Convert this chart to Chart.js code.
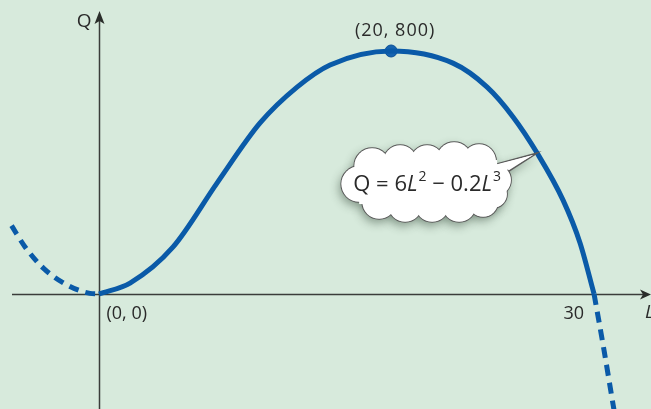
<!DOCTYPE html>
<html>
<head>
<meta charset="utf-8">
<script src="https://cdn.jsdelivr.net/npm/chart.js@4.4.1/dist/chart.umd.min.js"></script>
<style>
  html, body { margin: 0; padding: 0; background: #d7eadc; }
  #wrap { width: 651px; height: 409px; }
</style>
</head>
<body>
<div id="wrap"><canvas id="prodChart" width="651" height="409"></canvas></div>
<script>
// Curve (L along the horizontal, Q up)
const solidL = [0, 1.88, 4.49, 7.15, 9.76, 12.0, 14.0, 17.7, 21.45, 23.52, 25.09, 26.55, 28.12, 29.15, 30];
const solidQ = [0, 36, 155, 365, 563, 681, 754, 800, 760, 681, 583, 464, 309, 168, 0];
const leftL = [-5.3, -4.48, -3.39, -1.94, -0.55, 0];
const leftQ = [225, 155, 86, 30, 2, 0];
const rightL = [30, 30.6, 31.2, 31.4];
const rightQ = [0, -184, -379, -440];
const peakL = [17.7];
const peakQ = [800];

// labels
const peakLabel = "(20, 800)";
const originLabel = "(0, 0)";
const tickLabel = "30";

const blue = '#0a5aa8';
const ink = '#2a2a2a';

const pts = (xs, ys) => xs.map((x, i) => ({ x: x, y: ys[i] }));

// axes with arrows, text and the cloud callout
const decor = {
  id: 'decor',
  beforeDraw(chart) {
    const c = chart.ctx;
    c.save();
    c.fillStyle = '#d7eadc';
    c.fillRect(0, 0, chart.width, chart.height);
    c.restore();
  },
  beforeDatasetsDraw(chart) {
    const c = chart.ctx;
    const xs = chart.scales.x, ys = chart.scales.y;
    const ox = Math.round(xs.getPixelForValue(0)) + 0.5;
    const oy = Math.round(ys.getPixelForValue(0)) + 0.5;
    c.save();
    c.strokeStyle = '#3a3d3a';
    c.fillStyle = '#2a2d2a';
    c.lineWidth = 1.5;
    c.beginPath();
    c.moveTo(12, oy); c.lineTo(645, oy);
    c.moveTo(ox, chart.height); c.lineTo(ox, 20);
    c.stroke();
    // arrow heads
    c.beginPath();
    c.moveTo(651, oy); c.lineTo(640, oy - 5); c.lineTo(643, oy); c.lineTo(640, oy + 5); c.closePath();
    c.fill();
    c.beginPath();
    c.moveTo(ox, 11); c.lineTo(ox - 5, 24); c.lineTo(ox, 21); c.lineTo(ox + 5, 24); c.closePath();
    c.fill();

    c.fillStyle = ink;
    c.font = '19px "Open Sans"';
    c.textAlign = 'right';
    c.textBaseline = 'alphabetic';
    c.fillText('Q', ox - 8, 27);
    c.textAlign = 'left';
    c.font = 'italic 19px "Open Sans"';
    c.fillText('L', 645, 318);
    c.font = '18px "Open Sans"';
    c.fillText(originLabel, ox + 7, oy + 24);
    c.textAlign = 'right';
    c.fillText(tickLabel, xs.getPixelForValue(30) - 10, oy + 24);
    c.restore();
  },
  afterDatasetsDraw(chart) {
    const c = chart.ctx;
    const xs = chart.scales.x, ys = chart.scales.y;
    // peak label
    c.save();
    c.fillStyle = ink;
    c.font = '18px "Open Sans"';
    c.letterSpacing = '1px';
    c.textAlign = 'center';
    c.fillText(peakLabel, xs.getPixelForValue(peakL[0]) + 4, ys.getPixelForValue(peakQ[0]) - 15);
    c.restore();

    // cloud, anchored on a point of the curve
    const k = solidL.indexOf(26.55);
    const tx = xs.getPixelForValue(solidL[k]);
    const ty = ys.getPixelForValue(solidQ[k]);
    const cx = tx - 110, cy = ty + 29;
    const circles = [
      [-55, -16, 18], [-27, -20, 17], [0, -20, 17], [27, -22, 18], [52, -21, 17],
      [68, -2, 16], [66, 12, 14],
      [56, 20, 15], [32, 23, 17], [5, 23, 17], [-22, 23, 17], [-48, 20, 17],
      [-68, 2, 18]
    ];
    const ptr = [[cx + 66, cy - 17], [tx, ty], [cx + 74, cy - 6]];
    c.save();
    // shadow
    c.shadowColor = 'rgba(40,60,45,0.45)';
    c.shadowBlur = 10;
    c.shadowOffsetX = -2;
    c.shadowOffsetY = 4;
    c.fillStyle = '#ffffff';
    circles.forEach(([dx, dy, r]) => { c.beginPath(); c.arc(cx + dx, cy + dy, r, 0, Math.PI * 2); c.fill(); });
    c.beginPath(); c.moveTo(...ptr[0]); c.lineTo(...ptr[1]); c.lineTo(...ptr[2]); c.closePath(); c.fill();
    c.shadowColor = 'transparent';
    // outline
    c.strokeStyle = '#5a5a5a';
    c.lineWidth = 1.5;
    circles.forEach(([dx, dy, r]) => { c.beginPath(); c.arc(cx + dx, cy + dy, r, 0, Math.PI * 2); c.stroke(); });
    c.beginPath(); c.moveTo(...ptr[0]); c.lineTo(...ptr[1]); c.lineTo(...ptr[2]); c.stroke();
    // fill
    circles.forEach(([dx, dy, r]) => { c.beginPath(); c.arc(cx + dx, cy + dy, r - 0.2, 0, Math.PI * 2); c.fill(); });
    c.fillRect(cx - 68, cy - 22, 138, 44);
    c.beginPath(); c.moveTo(ptr[0][0] - 3, ptr[0][1] + 1); c.lineTo(ptr[1][0] - 4, ptr[1][1] + 2); c.lineTo(ptr[2][0] - 3, ptr[2][1] - 1); c.closePath(); c.fill();

    // equation text
    const parts = [
      ['Q = 6', '22px "Open Sans"', 0],
      ['L', 'italic 22px "Open Sans"', 0],
      ['2', '14px "Open Sans"', -10],
      [' \u2212 0.2', '22px "Open Sans"', 0],
      ['L', 'italic 22px "Open Sans"', 0],
      ['3', '14px "Open Sans"', -10]
    ];
    let total = 0;
    parts.forEach(p => { c.font = p[1]; total += c.measureText(p[0]).width + (p[0] === 'L' ? 1 : 0); });
    let x = cx - total / 2;
    const base = cy + 9;
    c.fillStyle = ink;
    c.textAlign = 'left';
    parts.forEach(p => {
      c.font = p[1];
      c.fillText(p[0], x, base + p[2]);
      x += c.measureText(p[0]).width + (p[0] === 'L' ? 1 : 0);
    });
    c.restore();
  }
};

const config = {
  type: 'line',
  data: {
    datasets: [
      {
        label: 'Q = 6L^2 - 0.2L^3',
        data: pts(solidL, solidQ),
        borderColor: blue,
        borderWidth: 5,
        pointRadius: 0,
        cubicInterpolationMode: 'monotone',
        borderCapStyle: 'butt'
      },
      {
        label: 'left',
        data: pts(leftL, leftQ),
        borderColor: blue,
        borderWidth: 5,
        borderDash: [10, 7],
        pointRadius: 0,
        cubicInterpolationMode: 'monotone'
      },
      {
        label: 'right',
        data: pts(rightL, rightQ),
        borderColor: blue,
        borderWidth: 5,
        borderDash: [11, 7],
        pointRadius: 0,
        cubicInterpolationMode: 'monotone'
      },
      {
        label: 'peak',
        data: pts(peakL, peakQ),
        showLine: false,
        pointRadius: 6,
        pointBackgroundColor: '#1764b0',
        pointBorderColor: '#0a4f96',
        pointBorderWidth: 1
      }
    ]
  },
  options: {
    responsive: false,
    animation: false,
    layout: { padding: 0, autoPadding: false },
    plugins: { legend: { display: false }, tooltip: { enabled: false } },
    scales: {
      x: { type: 'linear', min: -6, max: 33.45, display: false },
      y: { type: 'linear', min: -378.6, max: 967.9, display: false }
    }
  },
  plugins: [decor]
};

const prodChart = new Chart(document.getElementById('prodChart'), config);
</script>
</body>
</html>
